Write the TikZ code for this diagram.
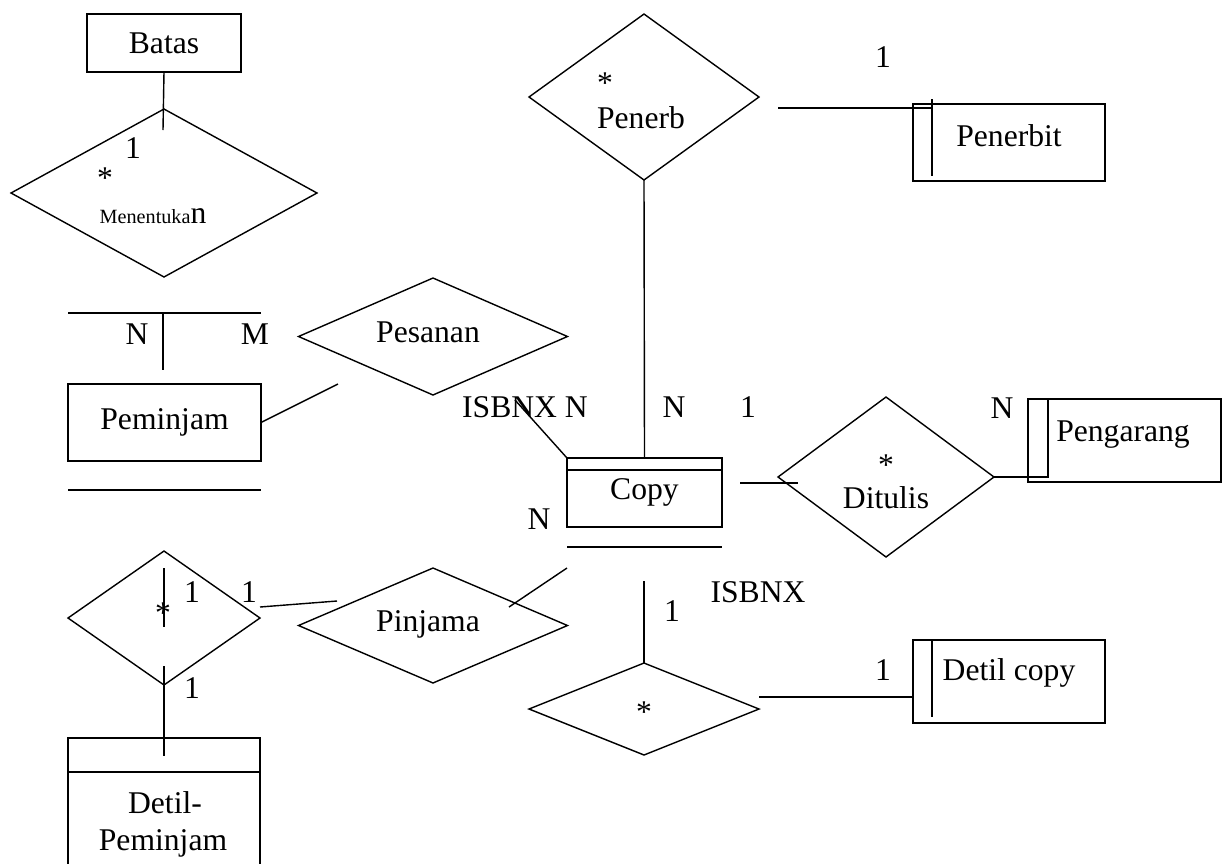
\documentclass[tikz,border=0pt]{standalone}
\usepackage{fontspec}
\setmainfont{Liberation Serif}
\usetikzlibrary{shapes.geometric}

\begin{document}
\begin{tikzpicture}[x=0.02cm, y=-0.02cm, line width=0.8pt,
    font=\fontsize{18}{21}\selectfont,
    ent/.style={draw, rectangle, inner sep=0pt, outer sep=0pt},
    rel/.style={draw, diamond, inner sep=0pt, outer sep=0pt},
    lbl/.style={anchor=base, inner sep=0pt}]
  \useasboundingbox (0,0) rectangle (1227,863);
  \clip (0,0) rectangle (1227,863);

  % entitas
  \node[ent, minimum width=3.08cm, minimum height=1.16cm] (batas) at (164,43) {Batas};
  \node[ent, minimum width=3.86cm, minimum height=1.54cm] (peminjam) at (164.5,422.5) {Peminjam};
  \node[ent, minimum width=3.10cm, minimum height=1.38cm] (copy) at (644.5,492.5) {Copy};
  \node[ent, minimum width=3.84cm, minimum height=1.54cm] (penerbit) at (1009,142.5) {};
  \node[ent, minimum width=3.86cm, minimum height=1.66cm] (pengarang) at (1124.5,440.5) {};
  \node[ent, minimum width=3.84cm, minimum height=1.66cm] (detilcopy) at (1009,681.5) {};
  \node[ent, minimum width=3.84cm, minimum height=2.8cm] (detilpinjam) at (164,808) {};

  % relasi
  \node[rel, minimum width=6.12cm, minimum height=3.36cm] (menentukan) at (164,193) {};
  \node[rel, minimum width=4.6cm, minimum height=3.32cm] (penerb) at (644,97) {};
  \node[rel, minimum width=5.38cm, minimum height=2.34cm] (pesanan) at (433,336.5) {};
  \node[rel, minimum width=5.38cm, minimum height=2.3cm] (pinjama) at (433,625.5) {};
  \node[rel, minimum width=3.84cm, minimum height=2.68cm] (rdetil) at (164,618) {};
  \node[rel, minimum width=4.32cm, minimum height=3.2cm] (ditulis) at (886,477) {};
  \node[rel, minimum width=4.6cm, minimum height=1.84cm] (rcopy) at (644,709) {};

  % teks
  \node[lbl] (t-menentukan) at (153,223) {{\fontsize{11.5}{13}\selectfont Menentuka}n};
  \node[lbl] (s-menentukan) at (133,158) {1};
  \node[lbl] (b-menentukan) at (105,188) {*};
  \node[lbl] (n-peminjam) at (137,344) {N};
  \node[lbl] (m-peminjam) at (255,344) {M};
  \node[lbl] (t-pesanan) at (428,342) {Pesanan};
  \node[lbl] (t-isbn1) at (525,417) {ISBNX N};
  \node[lbl] (n-copy1) at (674,417) {N};
  \node[lbl] (s-copy1) at (748,417) {1};
  \node[lbl] (n-copy2) at (539,529) {N};
  \node[lbl] (b-ditulis) at (886,475) {*};
  \node[lbl] (t-ditulis) at (886,508) {Ditulis};
  \node[lbl] (n-pengarang) at (1002,418) {N};
  \node[lbl] (t-pengarang) at (1123,441) {Pengarang};
  \node[lbl] (b-penerb) at (605,93) {*};
  \node[lbl] (t-penerb) at (641,128) {Penerb};
  \node[lbl] (s-penerbit) at (883,67) {1};
  \node[lbl] (t-penerbit) at (1009,146) {Penerbit};
  \node[lbl] (b-rdetil) at (163,623) {*};
  \node[lbl] (s-rdetil1) at (192,602) {1};
  \node[lbl] (s-rdetil2) at (249,602) {1};
  \node[lbl] (s-rdetil3) at (192,698) {1};
  \node[lbl] (t-pinjama) at (428,631) {Pinjama};
  \node[lbl] (t-detil1) at (165,813) {Detil-};
  \node[lbl] (t-detil2) at (163,850) {Peminjam};
  \node[lbl] (s-copy2) at (672,621) {1};
  \node[lbl] (t-isbn2) at (758,602) {ISBNX};
  \node[lbl] (b-rcopy) at (644,722) {*};
  \node[lbl] (s-detilcopy) at (883,680) {1};
  \node[lbl] (t-detilcopy) at (1009,680) {Detil copy};

  % titik bantu
  \coordinate (a1) at (163,130);
  \coordinate (g1) at (68,313);
  \coordinate (g2) at (261,313);
  \coordinate (g3) at (163,313);
  \coordinate (g4) at (163,370);
  \coordinate (g5) at (68,490);
  \coordinate (g6) at (261,490);
  \coordinate (p1) at (338,384);
  \coordinate (q1) at (778,108);
  \coordinate (q2) at (932,108);
  \coordinate (q3) at (932,99);
  \coordinate (q4) at (932,176);
  \coordinate (i1) at (515,400);
  \coordinate (c1) at (567,470);
  \coordinate (c2) at (722,470);
  \coordinate (c3) at (567,547);
  \coordinate (c4) at (722,547);
  \coordinate (w1) at (740,483);
  \coordinate (w2) at (798,483);
  \coordinate (w3) at (1048,477);
  \coordinate (w4) at (1048,399);
  \coordinate (k1) at (567,568);
  \coordinate (k2) at (509,607);
  \coordinate (v1) at (644,581);
  \coordinate (x1) at (759,697);
  \coordinate (x2) at (913,697);
  \coordinate (x3) at (932,640);
  \coordinate (x4) at (932,717);
  \coordinate (d1) at (164,568);
  \coordinate (d2) at (164,627);
  \coordinate (d3) at (260,607);
  \coordinate (d4) at (337,601);
  \coordinate (d5) at (164,666);
  \coordinate (d6) at (164,756);
  \coordinate (e1) at (68,772);
  \coordinate (e2) at (260,772);

  % garis
  \draw (batas.south) -- (a1);
  \draw (g1) -- (g2);
  \draw (g3) -- (g4);
  \draw (g5) -- (g6);
  \draw (peminjam.east) -- (p1);
  \draw (penerb.south) -- (copy.north);
  \draw (q1) -- (q2);
  \draw (q3) -- (q4);
  \draw (i1) -- (copy.north west);
  \draw (c1) -- (c2);
  \draw (c3) -- (c4);
  \draw (w1) -- (w2);
  \draw (ditulis.east) -- (w3) -- (w4);
  \draw (k1) -- (k2);
  \draw (v1) -- (rcopy.north);
  \draw (x1) -- (x2);
  \draw (x3) -- (x4);
  \draw (d1) -- (d2);
  \draw (d3) -- (d4);
  \draw (d5) -- (d6);
  \draw (e1) -- (e2);
\end{tikzpicture}
\end{document}
